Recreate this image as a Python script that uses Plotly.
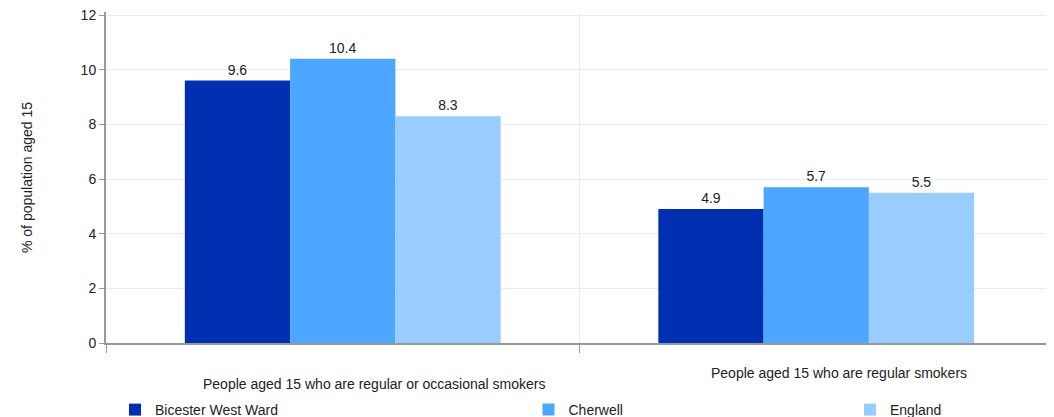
import plotly.graph_objects as go

categories = ["People aged 15 who are regular or occasional smokers",
              "People aged 15 who are regular smokers"]
series_names = ["Bicester West Ward", "Cherwell", "England"]
bicester = [9.6, 4.9]
cherwell = [10.4, 5.7]
england = [8.3, 5.5]
colors = ["#002FB1", "#4DA6FF", "#99CCFF"]
y_ticks = [0, 2, 4, 6, 8, 10, 12]

# the page body has an 8px margin, so the figure is sized to fit the window
W, H = 1046, 409
FONT = "Liberation Sans, Arial"

fig = go.Figure()
legends = ["legend", "legend2", "legend3"]
for name, vals, col, lg in zip(series_names, [bicester, cherwell, england], colors, legends):
    fig.add_trace(go.Bar(
        x=categories, y=vals, name=name, marker=dict(color=col, line=dict(width=0)),
        text=[f"{v:.1f}" for v in vals], textposition="outside", cliponaxis=False,
        textfont=dict(family=FONT, size=14, color="#222"),
        legend=lg, showlegend=True,
    ))

def leg(xpx):
    return dict(orientation="h", yanchor="top", xanchor="left",
                xref="container", yref="container",
                x=xpx / W, y=1 - 386 / H, bgcolor="rgba(0,0,0,0)",
                font=dict(family=FONT, size=14, color="#222"), itemwidth=30,
                visible=True)

fig.update_layout(showlegend=True, legend=leg(107), legend2=leg(520.5), legend3=leg(842))

fig.update_layout(
    width=W, height=H,
    margin=dict(l=98, r=1, t=4, b=74, autoexpand=False),
    paper_bgcolor="white", plot_bgcolor="white",
    barmode="group", bargap=0.333, bargroupgap=0,
    font=dict(family=FONT, size=14, color="#222"),
    yaxis=dict(range=[0, 12.11], tickvals=y_ticks, showgrid=True, gridcolor="#EBEBEB",
               showline=True, linecolor="#999", linewidth=2, ticks="outside",
               ticklen=5, tickcolor="#999", zeroline=False, automargin=False,
               ticklabeloverflow="allow",
               tickfont=dict(size=14, color="#222"),
               title=dict(text="% of population aged 15", standoff=45,
                          font=dict(size=14, color="#222"))),
    xaxis=dict(showticklabels=False, tickson="boundaries", ticks="outside", ticklen=8,
               tickcolor="#999", showline=True, linecolor="#999", linewidth=2,
               showgrid=True, gridcolor="#EBEBEB", automargin=False),
)
fig.add_annotation(x=categories[0], y=-0.125, yref="paper", xref="x", text=categories[0],
                   showarrow=False, yanchor="middle", xshift=31,
                   font=dict(size=14, color="#222"))
fig.add_annotation(x=categories[1], y=-0.0915, yref="paper", xref="x", text=categories[1],
                   showarrow=False, yanchor="middle", xshift=23,
                   font=dict(size=14, color="#222"))

fig.write_html("out.html")
